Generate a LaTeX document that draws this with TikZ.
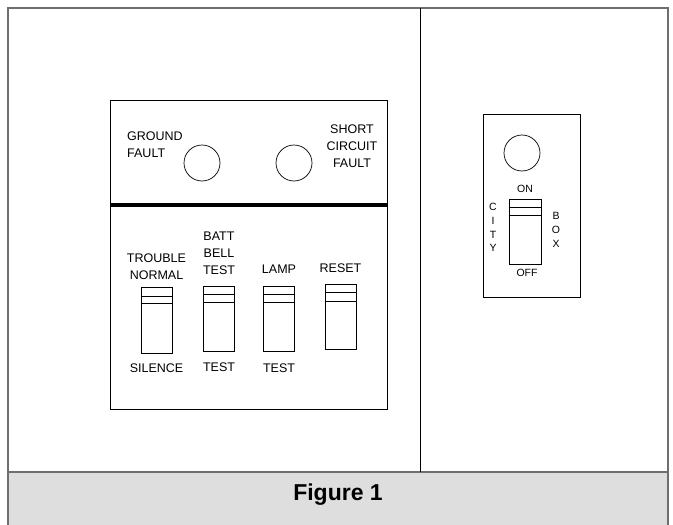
\documentclass[tikz,border=0pt]{standalone}
\usepackage{fontspec}
\setmainfont{Liberation Sans}
\usetikzlibrary{positioning}
\definecolor{frameGray}{HTML}{6E6E6E}
\definecolor{bandGray}{HTML}{DEDEDE}

\begin{document}
\begin{tikzpicture}[
    x=1pt, y=-1pt,
    panel/.style={draw=black, line width=0.8pt, inner sep=0pt},
    lamp/.style={draw=black, circle, minimum size=36pt, inner sep=0pt, line width=0.7pt},
    toggle/.style={draw=black, rectangle, minimum width=31pt, minimum height=65pt, inner sep=0pt, line width=0.8pt},
    lbl/.style={font=\fontsize{12.5}{17}\selectfont, inner sep=0pt, align=center},
    smalllbl/.style={font=\fontsize{10.5}{13.7}\selectfont, inner sep=0pt, align=center}
]
    \useasboundingbox (0,0) rectangle (673,525);

    % cabinet and caption band
    \fill[bandGray] (8,472) rectangle (668,525);
    \draw[frameGray, line width=1.8pt] (8,525) -- (8,8) -- (668,8) -- (668,525);
    \draw[frameGray, line width=1.4pt] (8,472) -- (668,472);
    \draw[black, line width=0.8pt] (420,8) -- (420,472);
    \node[font=\fontsize{23}{27}\bfseries, inner sep=0pt] (caption) at (338,495) {Figure 1};

    % fire alarm control panel
    \node[panel, minimum width=277pt, minimum height=309pt] (ctrl) at (248.5,254.5) {};
    \draw[line width=4pt] (ctrl.west |- 0,205) -- (ctrl.east |- 0,205);

    \node[lamp] (gnd) at (202,163) {};
    \node[lamp] (short) at (294,163) {};
    \node[lbl, align=left, anchor=west] (gndLbl) at (127,144.5) {GROUND\\FAULT};
    \node[lbl] (shortLbl) at (352,146) {SHORT\\CIRCUIT\\FAULT};

    \node[toggle, minimum height=66pt] (sw1) at (156.5,320) {};
    \node[toggle] (sw2) at (219,318.5) {};
    \node[toggle] (sw3) at (279,318.5) {};
    \node[toggle] (sw4) at (340.5,317) {};
    \draw[line width=0.8pt] ([yshift=-10pt]sw1.north west) -- ([yshift=-10pt]sw1.north east)
                            ([yshift=-17pt]sw1.north west) -- ([yshift=-17pt]sw1.north east)
                            ([yshift=-9pt]sw2.north west) -- ([yshift=-9pt]sw2.north east)
                            ([yshift=-17pt]sw2.north west) -- ([yshift=-17pt]sw2.north east)
                            ([yshift=-9pt]sw3.north west) -- ([yshift=-9pt]sw3.north east)
                            ([yshift=-17pt]sw3.north west) -- ([yshift=-17pt]sw3.north east)
                            ([yshift=-8pt]sw4.north west) -- ([yshift=-8pt]sw4.north east)
                            ([yshift=-17pt]sw4.north west) -- ([yshift=-17pt]sw4.north east);

    \node[lbl, above=6.5pt of sw1] (trouble) {TROUBLE\\NORMAL};
    \node[lbl, above=10.5pt of sw2] (batt) {BATT\\BELL\\TEST};
    \node[lbl, above=11.5pt of sw3] (lampLbl) {LAMP};
    \node[lbl, above=11.5pt of sw4] (reset) {RESET};
    \node[lbl, below=10.5pt of sw1] (silence) {SILENCE};
    \node[lbl, below=11.5pt of sw2] (battTest) {TEST};
    \node[lbl, below=12.5pt of sw3] (lampTest) {TEST};

    % city box
    \node[panel, minimum width=97pt, minimum height=183pt] (city) at (531.5,205.5) {};
    \node[lamp] (cityLamp) at (522,153) {};
    \node[toggle, minimum width=32pt] (citySw) at (525,231.5) {};
    \draw[line width=0.8pt] ([yshift=-9pt]citySw.north west) -- ([yshift=-9pt]citySw.north east)
                            ([yshift=-17pt]citySw.north west) -- ([yshift=-17pt]citySw.north east);
    \node[smalllbl, above=6pt of citySw] (on) {ON};
    \node[smalllbl, below=4.5pt of citySw, xshift=2pt] (off) {OFF};
    \node[smalllbl] (cityWord) at (493,227.5) {C\\I\\T\\Y};
    \node[smalllbl] (boxWord) at (556,230) {B\\O\\X};
\end{tikzpicture}
\end{document}
